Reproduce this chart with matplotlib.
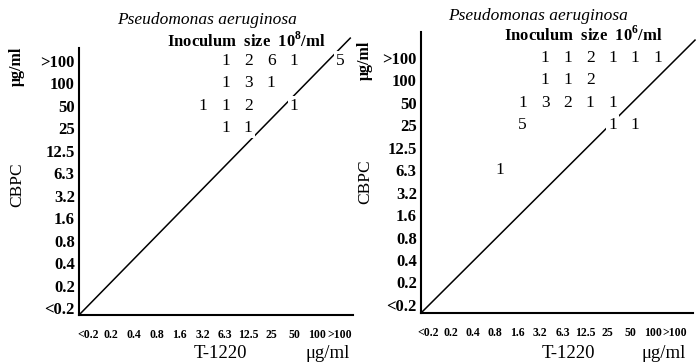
import matplotlib
matplotlib.use('Agg')
import matplotlib.pyplot as plt

plt.rcParams['font.family'] = ['Liberation Serif', 'DejaVu Serif']
plt.rcParams['mathtext.fontset'] = 'custom'
plt.rcParams['mathtext.rm'] = 'Liberation Serif:bold'
plt.rcParams['mathtext.bf'] = 'Liberation Serif:bold'

# concentration steps (same on both axes)
conc_labels = ['<0.2', '0.2', '0.4', '0.8', '1.6', '3.2', '6.3', '12.5', '25', '50', '100', '>100']

# strain counts: (T-1220 index, CBPC index, count)
left_cols = [6, 7, 8, 9, 11, 6, 7, 8, 5, 6, 7, 9, 6, 7]
left_rows = [11, 11, 11, 11, 11, 10, 10, 10, 9, 9, 9, 9, 8, 8]
left_counts = [1, 2, 6, 1, 5, 1, 3, 1, 1, 1, 2, 1, 1, 1]

right_cols = [5, 6, 7, 8, 9, 10, 5, 6, 7, 4, 5, 6, 7, 8, 4, 8, 9, 3]
right_rows = [11, 11, 11, 11, 11, 11, 10, 10, 10, 9, 9, 9, 9, 9, 8, 8, 8, 6]
right_counts = [1, 1, 2, 1, 1, 1, 1, 1, 2, 1, 3, 2, 1, 1, 5, 1, 1, 1]

# equal-MIC diagonal
left_diag_x = [-0.39, 11.45]
left_diag_y = [-0.31, 12.0]
right_diag_x = [-0.53, 11.67]
right_diag_y = [-0.36, 11.8]

W, H = 698, 362
fig = plt.figure(figsize=(W / 100, H / 100), dpi=100)


def panel(px_left, px_right, px_top, px_bottom, xlim, ylim, cols, rows, counts,
          dx, dy, xtick_shift):
    ax = fig.add_axes([px_left / W, (H - px_bottom) / H,
                       (px_right - px_left) / W, (px_bottom - px_top) / H])
    ax.plot(dx, dy, color='black', lw=1.1, clip_on=False, zorder=2)
    for c, r, n in zip(cols, rows, counts):
        ax.text(c, r, str(n), ha='center', va='center', fontsize=12.5,
                bbox=dict(fc='white', ec='none', pad=1.5), zorder=3)
    ax.set_xlim(*xlim)
    ax.set_ylim(*ylim)
    ax.set_xticks([i + xtick_shift for i in range(len(conc_labels))])
    ax.set_xticklabels(conc_labels, fontsize=8.5, fontweight='bold')
    ax.set_yticks(range(len(conc_labels)))
    ax.set_yticklabels(conc_labels, fontsize=12, fontweight='bold')
    ax.tick_params(length=0, pad=3)
    ax.tick_params(axis='x', pad=10)
    for s in ['top', 'right']:
        ax.spines[s].set_visible(False)
    for s in ['left', 'bottom']:
        ax.spines[s].set_linewidth(1.5)
    ax.patch.set_alpha(0)
    return ax


panel(79, 353, 48, 315, (-0.39, 11.57), (-0.31, 11.56),
      left_cols, left_rows, left_counts, left_diag_x, left_diag_y, 0)
panel(421, 693, 32, 313, (-0.53, 11.58), (-0.36, 12.16),
      right_cols, right_rows, right_counts, right_diag_x, right_diag_y, -0.22)

# titles and axis names
fig.text(207 / W, 1 - 20 / H, 'Pseudomonas aeruginosa', ha='center', va='center',
         fontsize=12.5, style='italic')
fig.text(246 / W, 1 - 41 / H, r'Inoculum  size  $10^{8}$/ml', ha='center', va='center',
         fontsize=12, fontweight='bold')
fig.text(538 / W, 1 - 16 / H, 'Pseudomonas aeruginosa', ha='center', va='center',
         fontsize=12.5, style='italic')
fig.text(583 / W, 1 - 35 / H, r'Inoculum  size  $10^{6}$/ml', ha='center', va='center',
         fontsize=12, fontweight='bold')

for xc, ug_y, cb_y in [(17, 66, 185), (365, 60, 182)]:
    fig.text(xc / W, 1 - ug_y / H, 'μg/ml', rotation=90, ha='center', va='center',
             fontsize=11.5, fontweight='bold')
    fig.text(xc / W, 1 - cb_y / H, 'CBPC', rotation=90, ha='center', va='center',
             fontsize=12.5)

for tx, ux in [(220, 328), (568, 664)]:
    fig.text(tx / W, 1 - 354 / H, 'T-1220', ha='center', va='center', fontsize=13.5)
    fig.text(ux / W, 1 - 354 / H, 'μg/ml', ha='center', va='center', fontsize=13.5)

fig.savefig('out.png', dpi=100)
